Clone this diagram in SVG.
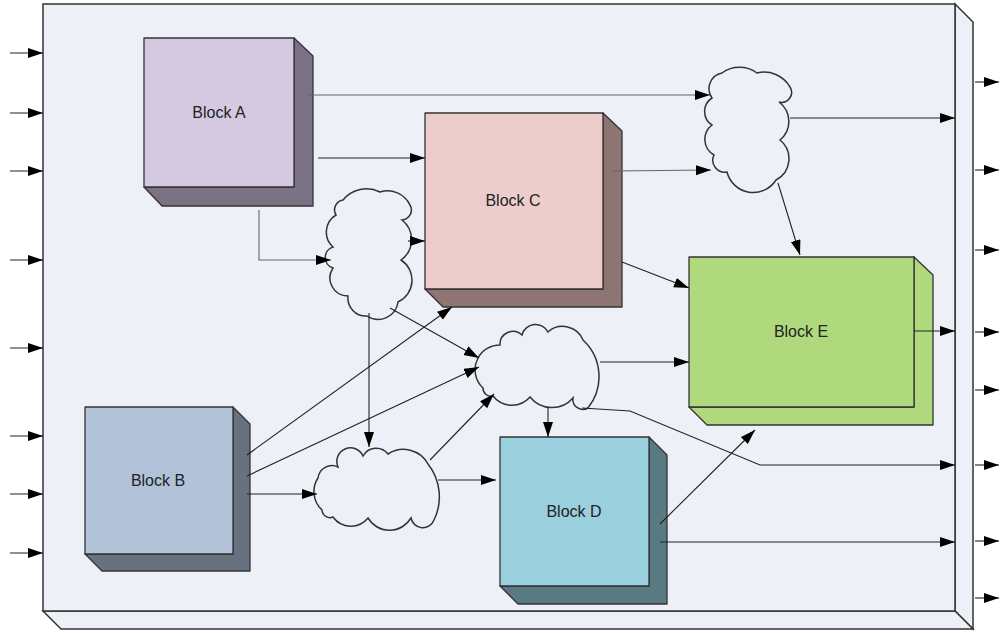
<svg xmlns="http://www.w3.org/2000/svg" width="1000" height="634" viewBox="0 0 1000 634">
<defs>
<marker id="ah" markerUnits="userSpaceOnUse" markerWidth="16" markerHeight="11" refX="15" refY="5" orient="auto">
<path d="M0,0 L15,5 L0,10 z" fill="#000"/>
</marker>
<style>
.frame{fill:#edf0f6;stroke:#333;stroke-width:1.5;stroke-linejoin:miter}
.blk{stroke:#333;stroke-width:1.3;stroke-linejoin:round}
.lbl{font-family:"Liberation Sans",Arial,sans-serif;font-size:16px;fill:#222;text-anchor:middle;dominant-baseline:central}
.cloud{fill:#edf0f6;stroke:#333;stroke-width:1.5}
.c{fill:none;stroke:#222;stroke-width:1.1;marker-end:url(#ah)}
.cg{fill:none;stroke:#666;stroke-width:1.1;marker-end:url(#ah)}
</style>
</defs>
<rect width="1000" height="634" fill="#fff"/>
<g id="frame">
<path class="frame" d="M955,4 L973,22 L973,629 L955,611 Z"/>
<path class="frame" d="M43,611 L955,611 L973,629 L61,629 Z"/>
<rect class="frame" x="43" y="4" width="912" height="607"/>
</g>
<g id="blockA">
<path class="blk" fill="#7b7285" d="M294,38 L313,56 L313,206 L162,206 L144,187 L294,187 Z"/>
<rect class="blk" fill="#d4c9e0" x="144" y="38" width="150" height="149"/>
<text class="lbl" x="219" y="112">Block A</text>
</g>
<g id="blockC">
<path class="blk" fill="#8e7472" d="M603,113 L622,131 L622,307 L443,307 L425,289 L603,289 Z"/>
<rect class="blk" fill="#edcdcb" x="425" y="113" width="178" height="176"/>
<text class="lbl" x="513" y="200">Block C</text>
</g>
<g id="blockE">
<path class="blk" fill="#b0d97e" d="M914,257 L933,275 L933,425 L707,425 L689,407 L914,407 Z"/>
<rect class="blk" fill="#b0d97e" x="689" y="257" width="225" height="150"/>
<text class="lbl" x="801" y="331">Block E</text>
</g>
<g id="blockB">
<path class="blk" fill="#687180" d="M233,407 L250,424 L250,571 L102,571 L85,554 L233,554 Z"/>
<rect class="blk" fill="#b1c2d9" x="85" y="407" width="148" height="147"/>
<text class="lbl" x="158" y="480">Block B</text>
</g>
<g id="blockD">
<path class="blk" fill="#5a7a83" d="M649,437 L667,455 L667,604 L518,604 L500,586 L649,586 Z"/>
<rect class="blk" fill="#9ad0dd" x="500" y="437" width="149" height="149"/>
<text class="lbl" x="574" y="511">Block D</text>
</g>
<g id="cloud1">
<path class="cloud" d="M343,200 A30,30 0 0 1 380,192 A25,25 0 0 1 410,205 A10,10 0 0 1 402,220 A25,25 0 0 1 401,260 A24,24 0 0 1 398,302 A20,20 0 0 1 367,316 A18,18 0 0 1 348,296 A18,18 0 0 1 333,268 A11,11 0 0 1 333,247 A20,20 0 0 1 336,215 A10,10 0 0 1 343,200 Z"/>
</g>
<g id="cloud2">
<path class="cloud" d="M722,73 A30,30 0 0 1 757,73 A30,30 0 0 1 790,87 A10,10 0 0 1 779,102 A24,24 0 0 1 780,140 A24,24 0 0 1 776,180 A27,27 0 0 1 727,172 A12,12 0 0 1 714,155 A18,18 0 0 1 712,125 A16,16 0 0 1 712,98 A16,16 0 0 1 722,73 Z"/>
</g>
<g id="cloud3">
<path class="cloud" d="M478,358 A25,25 0 0 1 500,345 A13,13 0 0 1 522,335 A14,14 0 0 1 548,332 A22,22 0 0 1 583,340 A50,50 0 0 1 588,408 A10,10 0 0 1 573,398 A28,28 0 0 1 530,397 A24,24 0 0 1 493,396 A8,8 0 0 1 483,388 A25,25 0 0 1 478,358 Z"/>
</g>
<g id="cloud4">
<path class="cloud" d="M318,478 A14,14 0 0 1 338,467 A13,13 0 0 1 363,456 A15,15 0 0 1 388,454 A28,28 0 0 1 428,464 A53,53 0 0 1 434,520 A12,12 0 0 1 411,518 A25,25 0 0 1 368,518 A22,22 0 0 1 333,517 A8,8 0 0 1 322,510 A25,25 0 0 1 318,478 Z"/>
</g>
<g id="connectors">
<path class="c" d="M10,53 H43"/>
<path class="c" d="M10,113 H43"/>
<path class="c" d="M10,171 H43"/>
<path class="c" d="M10,260 H43"/>
<path class="c" d="M10,348 H43"/>
<path class="c" d="M10,436 H43"/>
<path class="c" d="M10,494 H43"/>
<path class="c" d="M10,553 H43"/>
<path class="c" d="M975,82 H999"/>
<path class="c" d="M975,170 H999"/>
<path class="c" d="M975,250 H999"/>
<path class="c" d="M975,332 H999"/>
<path class="c" d="M975,390 H999"/>
<path class="c" d="M975,465 H999"/>
<path class="c" d="M975,541 H999"/>
<path class="c" d="M975,598 H999"/>
<path class="cg" d="M307,95 H710"/>
<path class="c" d="M318,158 H425"/>
<path class="cg" d="M259,210 V260 H331"/>
<path class="c" d="M408,241 H425"/>
<path class="cg" d="M613,171 L711,170"/>
<path class="c" d="M790,118 H955"/>
<path class="c" d="M778,183 L800,255"/>
<path class="c" d="M622,262 L689,288"/>
<path class="c" d="M369,313 V447"/>
<path class="c" d="M390,308 L479,358"/>
<path class="c" d="M247,455 L452,307"/>
<path class="c" d="M247,476 L479,367"/>
<path class="c" d="M247,494 H317"/>
<path class="c" d="M430,460 L494,394"/>
<path class="c" d="M438,480 H496"/>
<path class="c" d="M600,362 H689"/>
<path class="c" d="M548,408 V437"/>
<path class="c" d="M582,408 L630,411 L760,465 H955"/>
<path class="c" d="M660,524 L755,430"/>
<path class="c" d="M660,542 H955"/>
<path class="c" d="M914,331 H955"/>
</g>
</svg>
